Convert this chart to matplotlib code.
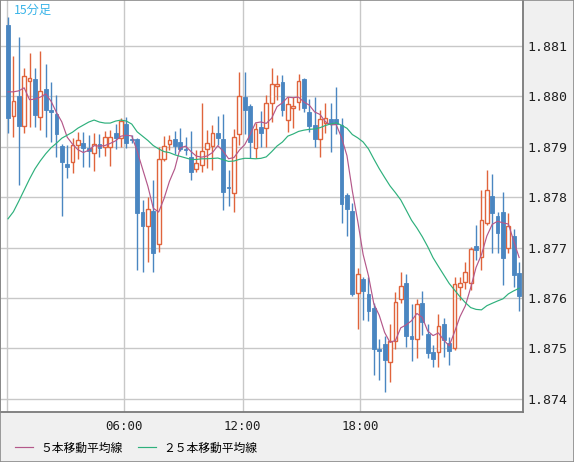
import numpy as np
import matplotlib
matplotlib.use("Agg")
import matplotlib.pyplot as plt
from matplotlib.patches import Rectangle

JP = ['Noto Sans CJK JP', 'DejaVu Sans']
MONO = ['DejaVu Sans Mono']

# 15-minute candles
opens = [1.88142, 1.87962, 1.88001, 1.87941, 1.88030, 1.88034, 1.87960, 1.88015, 1.87973, 1.87965,
         1.87902, 1.87866, 1.87869, 1.87903, 1.87907, 1.87898, 1.87887, 1.87905, 1.87900, 1.87900,
         1.87928, 1.87918, 1.87945, 1.87916, 1.87915, 1.87770, 1.87743, 1.87773, 1.87706, 1.87875,
         1.87905, 1.87915, 1.87909, 1.87895, 1.87879, 1.87855, 1.87863, 1.87895, 1.87902, 1.87927,
         1.87915, 1.87821, 1.87808, 1.87925, 1.87999, 1.87981, 1.87897, 1.87939, 1.87937, 1.87986,
         1.88020, 1.88028, 1.87954, 1.87976, 1.87989, 1.88034, 1.87969, 1.87943, 1.87916, 1.87947,
         1.87956, 1.87956, 1.87943, 1.87804, 1.87772, 1.87609, 1.87637, 1.87607, 1.87579, 1.87498,
         1.87508, 1.87472, 1.87514, 1.87598, 1.87630, 1.87524, 1.87518, 1.87590, 1.87528, 1.87493,
         1.87493, 1.87548, 1.87511, 1.87500, 1.87621, 1.87631, 1.87630, 1.87703, 1.87682, 1.87749,
         1.87802, 1.87763, 1.87771, 1.87699, 1.87723, 1.87649]
highs = [1.88157, 1.88080, 1.88118, 1.88056, 1.88087, 1.88056, 1.88090, 1.88064, 1.88029, 1.88003,
         1.87905, 1.87904, 1.87917, 1.87929, 1.87930, 1.87923, 1.87927, 1.87925, 1.87931, 1.87933,
         1.87945, 1.87958, 1.87960, 1.87923, 1.87918, 1.87794, 1.87801, 1.87835, 1.87900, 1.87921,
         1.87923, 1.87932, 1.87937, 1.87919, 1.87931, 1.87894, 1.87987, 1.87933, 1.87944, 1.87961,
         1.87966, 1.87854, 1.87936, 1.88048, 1.88048, 1.87985, 1.87947, 1.87970, 1.88003, 1.88056,
         1.88042, 1.88043, 1.87998, 1.87999, 1.88044, 1.88037, 1.87995, 1.87999, 1.87973, 1.87987,
         1.87986, 1.88018, 1.87957, 1.87808, 1.87788, 1.87659, 1.87641, 1.87641, 1.87590, 1.87518,
         1.87524, 1.87548, 1.87612, 1.87651, 1.87647, 1.87588, 1.87597, 1.87614, 1.87548, 1.87506,
         1.87568, 1.87560, 1.87523, 1.87641, 1.87641, 1.87671, 1.87701, 1.87745, 1.87814, 1.87854,
         1.87846, 1.87771, 1.87810, 1.87769, 1.87737, 1.87671]
lows = [1.87927, 1.87920, 1.87825, 1.87928, 1.87939, 1.87939, 1.87933, 1.87920, 1.87910, 1.87880,
        1.87763, 1.87837, 1.87847, 1.87876, 1.87860, 1.87860, 1.87852, 1.87880, 1.87882, 1.87862,
        1.87895, 1.87900, 1.87897, 1.87907, 1.87655, 1.87652, 1.87672, 1.87652, 1.87692, 1.87872,
        1.87894, 1.87885, 1.87892, 1.87884, 1.87835, 1.87850, 1.87850, 1.87857, 1.87854, 1.87903,
        1.87774, 1.87783, 1.87771, 1.87903, 1.87925, 1.87878, 1.87878, 1.87900, 1.87900, 1.87949,
        1.87993, 1.87961, 1.87930, 1.87937, 1.87973, 1.87969, 1.87929, 1.87900, 1.87879, 1.87927,
        1.87890, 1.87925, 1.87749, 1.87723, 1.87604, 1.87538, 1.87556, 1.87555, 1.87447, 1.87438,
        1.87414, 1.87434, 1.87499, 1.87590, 1.87503, 1.87475, 1.87480, 1.87526, 1.87480, 1.87463,
        1.87463, 1.87482, 1.87467, 1.87496, 1.87596, 1.87617, 1.87616, 1.87675, 1.87655, 1.87745,
        1.87689, 1.87690, 1.87625, 1.87689, 1.87622, 1.87573]
closes = [1.87958, 1.87991, 1.87942, 1.88040, 1.88036, 1.87964, 1.88011, 1.87973, 1.87968, 1.87925,
          1.87870, 1.87859, 1.87903, 1.87913, 1.87898, 1.87892, 1.87905, 1.87898, 1.87919, 1.87919,
          1.87918, 1.87951, 1.87907, 1.87913, 1.87768, 1.87743, 1.87776, 1.87690, 1.87875, 1.87902,
          1.87913, 1.87902, 1.87896, 1.87893, 1.87849, 1.87867, 1.87892, 1.87907, 1.87927, 1.87918,
          1.87811, 1.87818, 1.87919, 1.88000, 1.87973, 1.87910, 1.87935, 1.87928, 1.87986, 1.88024,
          1.88025, 1.87973, 1.87984, 1.87981, 1.88030, 1.87976, 1.87942, 1.87916, 1.87956, 1.87958,
          1.87945, 1.87945, 1.87786, 1.87777, 1.87608, 1.87647, 1.87614, 1.87573, 1.87498, 1.87495,
          1.87477, 1.87515, 1.87592, 1.87624, 1.87524, 1.87518, 1.87588, 1.87552, 1.87490, 1.87478,
          1.87544, 1.87517, 1.87495, 1.87628, 1.87629, 1.87652, 1.87698, 1.87696, 1.87754, 1.87814,
          1.87768, 1.87729, 1.87679, 1.87743, 1.87646, 1.87604]

# moving-average values at the start of the window (earlier bars are not shown)
ma5_head = [1.88009, 1.88009, 1.88011, 1.88017]
ma25_head = [1.87757, 1.87771, 1.87792, 1.87814, 1.87836, 1.87856, 1.87872, 1.87886,
             1.87898, 1.87907, 1.87917, 1.87923, 1.87929, 1.87937, 1.87943, 1.87949,
             1.87953, 1.87949, 1.87947, 1.87947, 1.87951, 1.87953, 1.87951, 1.87945]

time_ticks = [-0.2, 21.6, 43.6, 65.4]
time_labels = ['', '06:00', '12:00', '18:00']
price_ticks = [1.874, 1.875, 1.876, 1.877, 1.878, 1.879, 1.880, 1.881]

BULL = '#e0643c'
BEAR = '#4a86c1'
MA5_COLOR = '#b4588a'
MA25_COLOR = '#2eb07c'

o = np.array(opens)
h = np.array(highs)
l = np.array(lows)
c = np.array(closes)
x = np.arange(len(c))

ma5 = np.concatenate([ma5_head, np.convolve(c, np.ones(5) / 5, mode='valid')])
ma25 = np.concatenate([ma25_head, np.convolve(c, np.ones(25) / 25, mode='valid')])

fig = plt.figure(figsize=(5.74, 4.62), dpi=100, facecolor='#f0f0f0')
ax = fig.add_axes([0.0, 1 - 412 / 462, 523 / 574, 412 / 462])
ax.set_facecolor('white')

bull = c > o
wick_colors = np.where(bull, BULL, BEAR)
ax.vlines(x, l, h, colors=wick_colors, linewidth=1.0, zorder=2)
ax.bar(x[bull], c[bull] - o[bull], bottom=o[bull], width=0.7,
       facecolor='white', edgecolor=BULL, linewidth=1.0, zorder=3)
ax.bar(x[~bull], o[~bull] - c[~bull], bottom=c[~bull], width=0.7,
       facecolor=BEAR, edgecolor=BEAR, linewidth=0.6, zorder=3)

l5, = ax.plot(x, ma5, color=MA5_COLOR, linewidth=0.85, zorder=4)
l25, = ax.plot(x, ma25, color=MA25_COLOR, linewidth=0.85, zorder=4)

ax.set_xlim(-1.49, 95.72)
ax.set_ylim(1.873735, 1.881913)

ax.set_xticks(time_ticks)
ax.set_xticklabels(time_labels)
ax.set_yticks(price_ticks)
ax.set_yticklabels([f'{p:.3f}' for p in price_ticks])
ax.yaxis.tick_right()
ax.tick_params(axis='x', length=0, pad=6, labelsize=9)
ax.tick_params(axis='y', length=0, pad=3, labelsize=9.5)
for lab in ax.get_xticklabels() + ax.get_yticklabels():
    lab.set_family(MONO)
    lab.set_color('#202020')

ax.grid(True, color='#c8c8c8', linewidth=1.0, zorder=0)
ax.set_axisbelow(True)
for side in ['left', 'right', 'bottom']:
    ax.spines[side].set_color('#7a7a7a')
    ax.spines[side].set_linewidth(1.3)
ax.spines['top'].set_visible(False)

fig.text(14 / 574, 1 - 10 / 462, '15分足', color='#3ab4e8', fontsize=8.8,
         family=JP, ha='left', va='center')

fig.legend([l5, l25], ['５本移動平均線', '２５本移動平均線'],
           loc='center left', bbox_to_anchor=(15 / 574, 1 - 448 / 462),
           ncol=2, frameon=False, handlelength=1.5, handletextpad=0.65,
           columnspacing=1.3, borderpad=0, borderaxespad=0,
           prop={'family': JP, 'size': 8.5})

fig.patches.append(Rectangle((0, 0), 1, 1, transform=fig.transFigure, fill=False,
                             edgecolor='#8a8a8a', linewidth=1.2))

fig.savefig('out.png', dpi=100, facecolor=fig.get_facecolor())
